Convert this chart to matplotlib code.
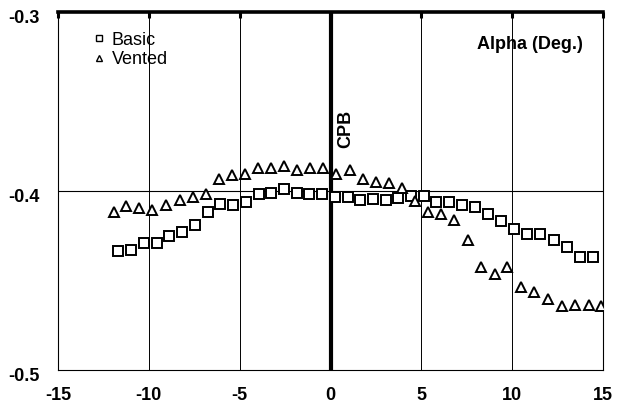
import matplotlib
matplotlib.use("Agg")
import matplotlib.pyplot as plt
from matplotlib.lines import Line2D
import matplotlib.transforms as mtransforms

plt.rcParams['font.family'] = ['Liberation Sans', 'DejaVu Sans']

basic_x = [-11.70, -11.00, -10.28, -9.57, -8.87, -8.17, -7.44, -6.74, -6.06, -5.35,
           -4.67, -3.96, -3.26, -2.57, -1.87, -1.19, -0.48, 0.24, 0.94, 1.65,
           2.33, 3.04, 3.74, 4.44, 5.14, 5.83, 6.54, 7.24, 7.96, 8.69,
           9.39, 10.11, 10.81, 11.54, 12.28, 13.00, 13.76, 14.44]
basic_y = [-0.4336, -0.4331, -0.4289, -0.4289, -0.4252, -0.4230, -0.4190, -0.4120, -0.4071, -0.4078,
           -0.4062, -0.4019, -0.4009, -0.3991, -0.4009, -0.4019, -0.4019, -0.4034, -0.4032, -0.4052,
           -0.4043, -0.4052, -0.4041, -0.4028, -0.4028, -0.4062, -0.4062, -0.4080, -0.4090, -0.4127,
           -0.4168, -0.4211, -0.4239, -0.4239, -0.4271, -0.4312, -0.4370, -0.4370]

vented_x = [-11.93, -11.28, -10.54, -9.80, -9.06, -8.31, -7.59, -6.85, -6.13, -5.41,
            -4.70, -3.98, -3.26, -2.54, -1.83, -1.11, -0.41, 0.31, 1.06, 1.78,
            2.50, 3.22, 3.93, 4.65, 5.37, 6.09, 6.81, 7.56, 8.30, 9.04,
            9.74, 10.48, 11.22, 11.96, 12.72, 13.46, 14.22, 14.91]
vented_y = [-0.4116, -0.4086, -0.4097, -0.4108, -0.4080, -0.4052, -0.4034, -0.4015, -0.3935, -0.3912,
            -0.3903, -0.3873, -0.3873, -0.3860, -0.3882, -0.3873, -0.3873, -0.3903, -0.3882, -0.3935,
            -0.3948, -0.3953, -0.3981, -0.4056, -0.4116, -0.4131, -0.4164, -0.4271, -0.4424, -0.4463,
            -0.4424, -0.4538, -0.4564, -0.4601, -0.4641, -0.4635, -0.4635, -0.4641]

x_ticks = [-15, -10, -5, 0, 5, 10, 15]
y_ticks = [-0.5, -0.4, -0.3]
y_ticklabels = ['-0.5', '-0.4', '-0.3']

fig = plt.figure(figsize=(6.22, 4.12), dpi=100)
ax = fig.add_axes([58/622, 1 - 370/412, 545/622, 358/412])
ax.set_xlim(-15, 15)
ax.set_ylim(-0.5, -0.3)

# grid lines
for gx in [-10, -5, 5, 10]:
    ax.axvline(gx, color='black', lw=0.7, zorder=1)
ax.axhline(-0.4, color='black', lw=0.8, zorder=1)
ax.axvline(0, color='black', lw=3.0, zorder=2)

ax.plot(basic_x, basic_y, ls='none', marker='s', ms=6.8, mfc='white', mec='black', mew=1.4,
        zorder=3, label='Basic')
ax.plot(vented_x, vented_y, ls='none', marker='^', ms=7, mfc='white', mec='black', mew=1.4,
        zorder=3, label='Vented')

for s in ['left', 'right', 'bottom']:
    ax.spines[s].set_linewidth(0.8)
ax.spines['top'].set_linewidth(2.6)

ax.set_xticks(x_ticks)
ax.set_xticklabels([str(v) for v in x_ticks], fontsize=13, fontweight='bold')
ax.set_yticks(y_ticks)
ax.set_yticklabels(y_ticklabels, fontsize=13, fontweight='bold')
ax.xaxis.set_tick_params(bottom=False, top=True, direction='in', length=4, width=2.2, pad=12)
ax.yaxis.set_tick_params(left=False, right=False, pad=10)
offset = mtransforms.ScaledTranslation(0, -3/72, fig.dpi_scale_trans)
for lab in ax.get_yticklabels():
    lab.set_transform(lab.get_transform() + offset)

handles = [Line2D([], [], ls='none', marker='s', ms=5, mfc='white', mec='black', mew=1.0),
           Line2D([], [], ls='none', marker='^', ms=5, mfc='white', mec='black', mew=1.0)]
ax.legend(handles, ['Basic', 'Vented'], loc='upper left', bbox_to_anchor=(0.05, 0.965),
          frameon=False, fontsize=13, handlelength=0.7, handletextpad=0.35,
          labelspacing=0.15, borderaxespad=0)

ax.text(0.963, 0.91, 'Alpha (Deg.)', transform=ax.transAxes, ha='right', va='center',
        fontsize=13, fontweight='bold')
ax.text(0.85, -0.3653, 'CPB', rotation=90, ha='center', va='center',
        fontsize=13, fontweight='bold')

fig.savefig('out.png', dpi=100)
